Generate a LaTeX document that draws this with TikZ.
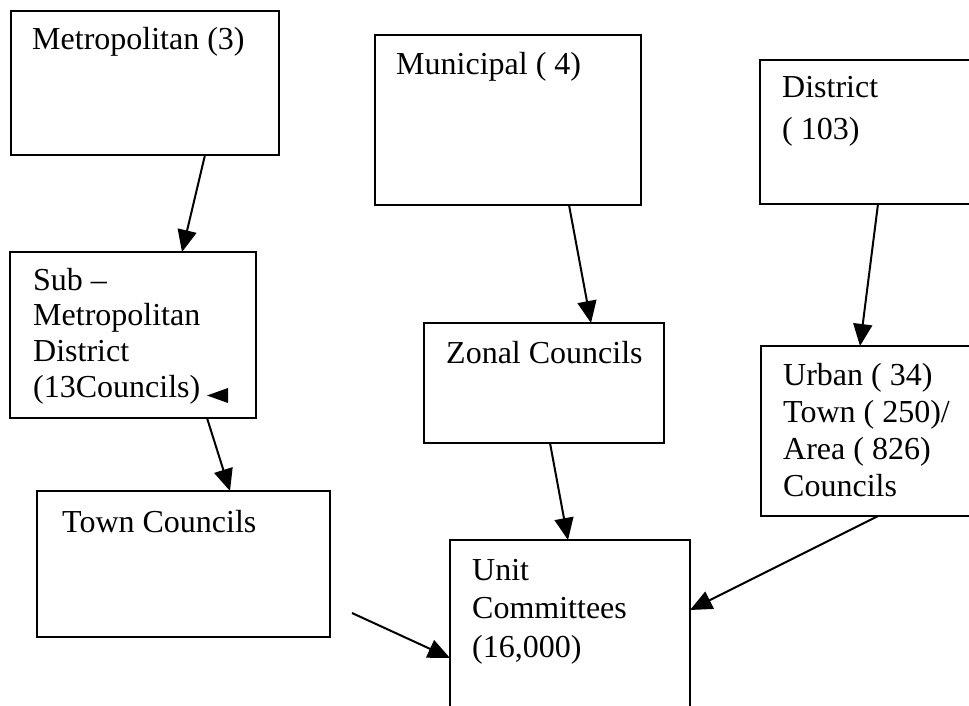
\documentclass[tikz,border=0pt]{standalone}
\usepackage{fontspec}
\setmainfont{Liberation Serif}
\usetikzlibrary{arrows.meta}
\newcommand\multitext[2]{\parbox[t]{8cm}{\fontsize{32pt}{#1}\selectfont\raggedright #2}}
\tikzset{
  box/.style={draw, line width=2.2pt, anchor=north west, inner sep=0pt, outer sep=0pt},
  lbl/.style={anchor=base west, inner sep=0pt, font=\fontsize{32pt}{36pt}\selectfont},
  conn/.style={line width=2pt, -{Triangle[length=22pt,width=19pt]}},
}
\begin{document}
\begin{tikzpicture}[x=1pt,y=-1pt]
\useasboundingbox (0,0) rectangle (969,706);
\clip (0,0) rectangle (969,706);
% boxes
\node[box, minimum width=268pt, minimum height=144pt] (metro) at (11,11) {};
\node[box, minimum width=266pt, minimum height=170pt] (muni) at (375,35) {};
\node[box, minimum width=260pt, minimum height=144pt] (dist) at (760,60) {};
\node[box, minimum width=246pt, minimum height=166pt] (sub) at (10,252) {};
\node[box, minimum width=240pt, minimum height=120pt] (zonal) at (424,323) {};
\node[box, minimum width=260pt, minimum height=170pt] (urban) at (761,346) {};
\node[box, minimum width=293pt, minimum height=146pt] (town) at (37,491) {};
\node[box, minimum width=240pt, minimum height=220pt] (unit) at (450,540) {};
% texts
\node[lbl] (tmetro) at (32,50) {Metropolitan (3)};
\node[lbl] (tmuni) at (396,75) {Municipal ( 4)};
\node[lbl] (tdist) at (782,98) {\multitext{42pt}{District\\( 103)}};
\node[lbl] (tsub) at (33,290) {\multitext{35.7pt}{Sub –\\Metropolitan\\District\\(13Councils)}};
\node[lbl] (tzonal) at (446,363) {Zonal Councils};
\node[lbl] (turban) at (783,385) {\multitext{37pt}{Urban ( 34)\\Town ( 250)/\\Area ( 826)\\Councils}};
\node[lbl] (ttown) at (62,532) {Town Councils};
\node[lbl] (tunit) at (472,580) {\multitext{38.5pt}{Unit\\Committees\\(16,000)}};
% small left-pointing triangle after (13Councils)
\fill (228,388) -- (207,395.5) -- (228,403) -- cycle;
% connectors
\draw[conn] ([xshift=194pt]metro.south west) -- ([xshift=172pt]sub.north west);
\draw[conn] ([xshift=194pt]muni.south west) -- ([xshift=167pt]zonal.north west);
\draw[conn] ([xshift=118pt]dist.south west) -- ([xshift=99pt]urban.north west);
\draw[conn] ([xshift=197pt]sub.south west) -- ([xshift=193pt]town.north west);
\draw[conn] ([xshift=126pt]zonal.south west) -- ([xshift=118pt]unit.north west);
\draw[conn] ([xshift=117pt]urban.south west) -- ([yshift=-70pt]unit.north east);
\coordinate (tcfree) at (352,613);
\draw[conn] (tcfree) -- ([yshift=-118pt]unit.north west);
\end{tikzpicture}
\end{document}
